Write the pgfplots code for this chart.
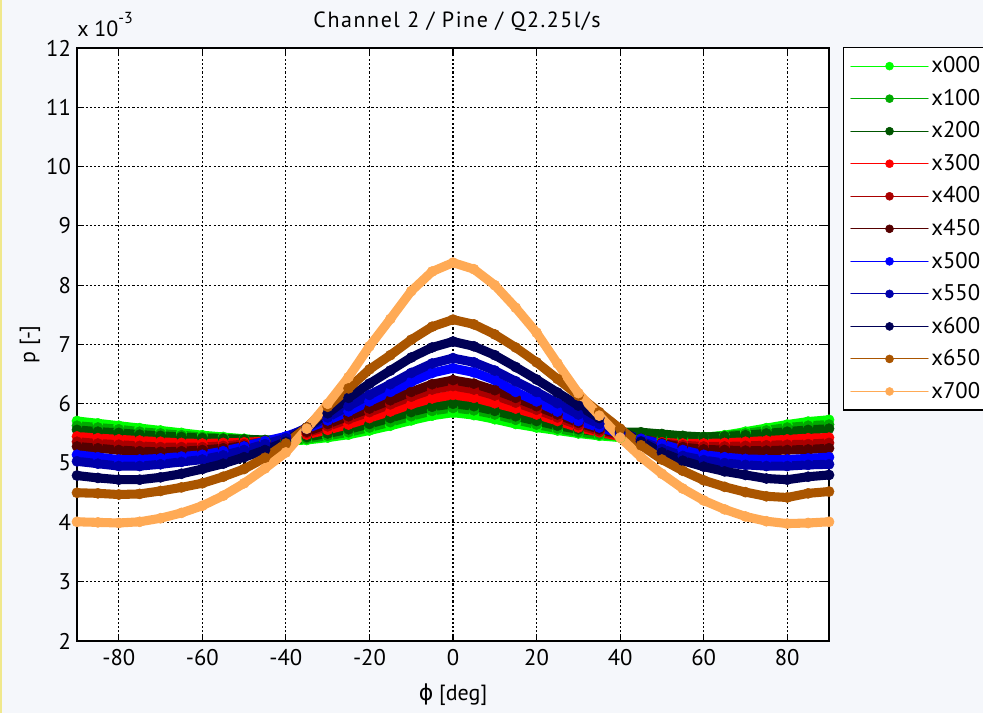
\documentclass[border=0pt]{standalone}
\usepackage{fontspec}
\setmainfont{PT Sans}
\newfontfamily\dejavu{DejaVu Sans}
\usepackage{pgfplots}
\usepackage{pgfplotstable}
\pgfplotsset{compat=1.18}
\definecolor{c000}{RGB}{0,255,0}
\definecolor{c100}{RGB}{0,170,0}
\definecolor{c200}{RGB}{0,85,0}
\definecolor{c300}{RGB}{255,0,0}
\definecolor{c400}{RGB}{170,0,0}
\definecolor{c450}{RGB}{85,0,0}
\definecolor{c500}{RGB}{0,0,255}
\definecolor{c550}{RGB}{0,0,170}
\definecolor{c600}{RGB}{0,0,85}
\definecolor{c650}{RGB}{170,85,0}
\definecolor{c700}{RGB}{255,170,85}
\definecolor{bgcol}{RGB}{245,247,251}
\definecolor{edgecol}{RGB}{240,232,140}

\pgfplotstableread{
phi s000 s100 s200 s300 s400 s450 s500 s550 s600 s650 s700
-90 5.71 5.63 5.56 5.45 5.36 5.28 5.14 5.03 4.79 4.50 4.01
-85 5.67 5.60 5.53 5.42 5.33 5.25 5.10 4.99 4.75 4.49 4.00
-80 5.63 5.57 5.51 5.40 5.31 5.22 5.06 4.95 4.72 4.47 3.99
-75 5.59 5.53 5.48 5.38 5.29 5.20 5.06 4.95 4.72 4.48 4.01
-70 5.55 5.50 5.46 5.36 5.27 5.19 5.08 4.98 4.76 4.53 4.07
-65 5.51 5.47 5.44 5.34 5.27 5.20 5.11 5.02 4.82 4.59 4.16
-60 5.47 5.44 5.42 5.33 5.27 5.22 5.14 5.06 4.90 4.66 4.28
-55 5.44 5.42 5.41 5.34 5.29 5.25 5.20 5.13 4.99 4.77 4.45
-50 5.41 5.40 5.40 5.35 5.32 5.29 5.28 5.22 5.10 4.90 4.66
-45 5.38 5.38 5.39 5.37 5.36 5.35 5.37 5.32 5.22 5.09 4.91
-40 5.37 5.38 5.40 5.41 5.42 5.43 5.45 5.42 5.36 5.33 5.18
-35 5.39 5.41 5.44 5.48 5.51 5.53 5.58 5.60 5.60 5.60 5.58
-30 5.43 5.46 5.50 5.56 5.62 5.66 5.72 5.77 5.84 5.95 6.00
-25 5.48 5.52 5.57 5.65 5.74 5.79 5.87 5.96 6.10 6.26 6.45
-20 5.55 5.60 5.66 5.76 5.86 5.92 6.04 6.15 6.34 6.58 6.97
-15 5.63 5.69 5.76 5.87 5.99 6.06 6.20 6.33 6.56 6.82 7.43
-10 5.72 5.79 5.86 5.99 6.12 6.20 6.37 6.52 6.78 7.08 7.90
-5 5.80 5.88 5.95 6.09 6.24 6.33 6.52 6.68 6.95 7.30 8.23
0 5.85 5.93 6.00 6.15 6.30 6.40 6.60 6.77 7.05 7.42 8.38
5 5.81 5.89 5.96 6.10 6.24 6.34 6.53 6.70 6.97 7.34 8.27
10 5.74 5.82 5.88 6.01 6.14 6.23 6.40 6.56 6.82 7.17 8.00
15 5.66 5.73 5.79 5.92 6.02 6.10 6.20 6.38 6.62 6.95 7.62
20 5.60 5.65 5.71 5.82 5.90 5.96 6.04 6.20 6.41 6.70 7.20
25 5.55 5.58 5.63 5.71 5.77 5.82 5.87 6.01 6.19 6.42 6.68
30 5.50 5.52 5.57 5.60 5.64 5.68 5.71 5.82 5.97 6.14 6.18
35 5.46 5.48 5.53 5.52 5.54 5.57 5.60 5.66 5.76 5.86 5.80
40 5.43 5.46 5.52 5.45 5.47 5.49 5.50 5.52 5.56 5.58 5.43
45 5.41 5.44 5.52 5.39 5.40 5.41 5.41 5.37 5.36 5.30 5.10
50 5.40 5.43 5.49 5.35 5.34 5.33 5.32 5.24 5.18 5.06 4.82
55 5.41 5.43 5.46 5.33 5.30 5.27 5.22 5.12 5.04 4.87 4.57
60 5.43 5.44 5.44 5.33 5.28 5.23 5.14 5.05 4.94 4.71 4.37
65 5.47 5.46 5.45 5.34 5.28 5.22 5.10 5.00 4.86 4.60 4.22
70 5.53 5.50 5.47 5.36 5.29 5.21 5.07 4.97 4.80 4.51 4.10
75 5.59 5.55 5.50 5.38 5.30 5.21 5.06 4.95 4.74 4.44 4.02
80 5.65 5.60 5.53 5.40 5.31 5.22 5.06 4.95 4.72 4.42 3.98
85 5.70 5.63 5.56 5.42 5.32 5.23 5.08 4.97 4.77 4.49 3.99
90 5.73 5.65 5.58 5.43 5.34 5.25 5.10 4.98 4.80 4.52 4.01
}\data

\pgfplotsset{
  band/.style={color=#1, line width=6.8pt, line join=round, line cap=round,
    mark=*, mark size=3.8pt, mark options={line width=0.4pt, fill=#1, draw=#1}},
}

\begin{document}
\begin{tikzpicture}
\path[use as bounding box, fill=bgcol] (-57.75pt,-54pt) rectangle (679.5pt,480.75pt);
\fill[edgecol] (-57.75pt,-54pt) rectangle (-56.25pt,480.75pt);
\begin{axis}[
  name=ax,
  scale only axis,
  width=564pt, height=444.75pt,
  xmin=-90, xmax=90, ymin=2, ymax=12,
  xtick={-80,-60,-40,-20,0,20,40,60,80},
  xticklabels={-80,-60,-40,-20,0,20,40,60,80},
  ytick={2,3,4,5,6,7,8,9,10,11,12},
  yticklabels={2,3,4,5,6,7,8,9,10,11,12},
  axis background/.style={fill=white},
  axis line style={black, line width=1pt},
  grid=major,
  major grid style={black, line width=0.9pt, dash pattern=on 1.6pt off 1.6pt},
  major tick length=5.5pt,
  tick style={black, line width=0.9pt},
  tick label style={font=\fontsize{17}{20}\selectfont},
  xticklabel style={yshift=-3pt},
  yticklabel style={xshift=-1pt},
  xlabel={{\dejavu ϕ} [deg]},
  ylabel={p [-]},
  label style={font=\fontsize{16.5}{20}\selectfont},
  xlabel style={at={(axis description cs:0.5,-0.091)}, anchor=center},
  ylabel style={at={(axis description cs:-0.0625,0.5)}, anchor=center},
  legend style={at={(axis description cs:1.0186,1.002)}, anchor=north west,
    draw=black, line width=1pt, fill=white,
    font=\fontsize{17}{20}\selectfont,
    inner xsep=5pt, inner ysep=5pt, row sep=6.4pt,
    nodes={inner sep=2pt, text height=12pt, text depth=2pt}},
  legend cell align=left,
  legend image code/.code={
    \draw[#1, line width=0.8pt, mark=none] (0pt,0pt) -- (58pt,0pt);
    \draw[#1, line width=0.8pt, mark size=3pt] plot coordinates {(29pt,0pt)};
  },
]
\addplot[band=c000] table[x=phi, y=s000] {\data};
\addlegendentry{x000}
\addplot[band=c100] table[x=phi, y=s100] {\data};
\addlegendentry{x100}
\addplot[band=c200] table[x=phi, y=s200] {\data};
\addlegendentry{x200}
\addplot[band=c300] table[x=phi, y=s300] {\data};
\addlegendentry{x300}
\addplot[band=c400] table[x=phi, y=s400] {\data};
\addlegendentry{x400}
\addplot[band=c450] table[x=phi, y=s450] {\data};
\addlegendentry{x450}
\addplot[band=c500] table[x=phi, y=s500] {\data};
\addlegendentry{x500}
\addplot[band=c550] table[x=phi, y=s550] {\data};
\addlegendentry{x550}
\addplot[band=c600] table[x=phi, y=s600] {\data};
\addlegendentry{x600}
\addplot[band=c650] table[x=phi, y=s650] {\data};
\addlegendentry{x650}
\addplot[band=c700] table[x=phi, y=s700] {\data};
\addlegendentry{x700}
\end{axis}
\node[anchor=base, font=\fontsize{16.5}{20}\selectfont\addfontfeatures{LetterSpace=7}, inner sep=0pt] at ([xshift=3pt, yshift=15pt]ax.north) {Channel 2 / Pine / Q2.25l/s};
\node[anchor=south west, font=\fontsize{16.5}{20}\selectfont, inner sep=0pt] at ([yshift=8pt]ax.north west) {x 10\raisebox{0.62em}{\fontsize{12}{13}\selectfont -3}};
\end{tikzpicture}
\end{document}
